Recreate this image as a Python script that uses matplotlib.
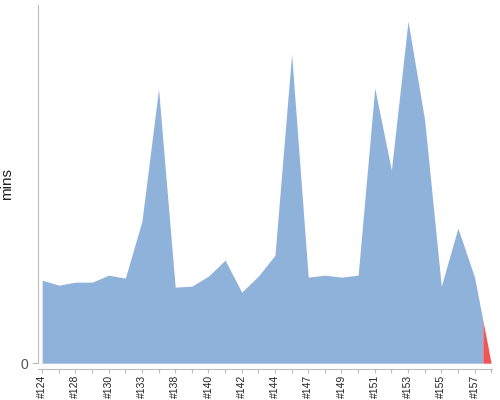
import numpy as np
import matplotlib
matplotlib.use("Agg")
import matplotlib.pyplot as plt

builds = ["#124", "#125", "#128", "#129", "#130", "#131", "#133", "#136", "#138", "#139",
          "#140", "#141", "#142", "#143", "#144", "#146", "#147", "#148", "#149", "#150",
          "#151", "#152", "#153", "#154", "#155", "#156", "#157", "#158"]
minutes = [8.3, 7.8, 8.1, 8.1, 8.8, 8.5, 14.2, 27.4, 7.6, 7.7,
           8.7, 10.3, 7.1, 8.7, 10.8, 30.9, 8.6, 8.8, 8.6, 8.8,
           27.5, 19.3, 34.2, 24.3, 7.7, 13.5, 8.6, 0.0]

plt.rcParams['font.family'] = ['Liberation Sans', 'DejaVu Sans']
fig = plt.figure(figsize=(5, 4), dpi=100)
ax = fig.add_axes([0.076, 0.092, 0.908, 0.8955])

x = np.arange(len(builds), dtype=float)
y = np.array(minutes, dtype=float)
split = len(builds) - 1.5
ysplit = np.interp(split, x, y)

xb = np.append(x[x < split], split)
yb = np.append(y[x < split], ysplit)
ax.fill_between(xb, 0, yb, color="#8fb2db", linewidth=0)
xr = np.insert(x[x > split], 0, split)
yr = np.insert(y[x > split], 0, ysplit)
ax.fill_between(xr, 0, yr, color="#f05656", linewidth=0)

ax.set_xlim(-0.25, len(builds) - 1 + 0.05)
ax.set_ylim(0, 35.8)
ax.set_xticks(x)
ax.set_xticklabels([b if i % 2 == 0 else "" for i, b in enumerate(builds)])
ax.set_yticks([0])
ax.set_yticklabels(["0"])
ax.set_ylabel("mins", fontsize=11, color="#222222")
ax.yaxis.set_label_coords(-0.053, 0.5)

for s in ["top", "right"]:
    ax.spines[s].set_visible(False)
ax.spines["left"].set_color("#bbbbbb")
ax.spines["bottom"].set_color("#bbbbbb")
ax.spines["bottom"].set_position(("outward", 4))
ax.tick_params(axis="x", length=3, color="#bbbbbb", pad=1.5, labelrotation=90,
               labelsize=7.5, labelcolor="#222222")
ax.tick_params(axis="y", length=4, color="#bbbbbb", pad=3,
               labelsize=10, labelcolor="#555555")

fig.savefig("out.png", dpi=100)
